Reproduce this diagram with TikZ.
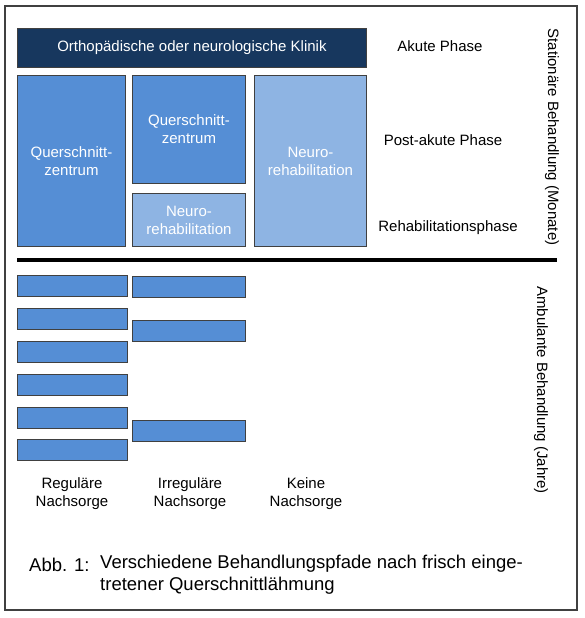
\documentclass[tikz,border=0pt]{standalone}
\usepackage{fontspec}
\setmainfont{Liberation Sans}
\usetikzlibrary{positioning}
\definecolor{navy}{HTML}{17375E}
\definecolor{midblue}{HTML}{558ED5}
\definecolor{lightblue}{HTML}{8EB4E3}
\definecolor{frame}{HTML}{404040}
\tikzset{blk/.style={draw=black!75,line width=0.9pt,text=white,align=center,inner sep=0pt,anchor=north west,font=\fontsize{15}{18}\selectfont},
  qz/.style={blk,fill=midblue}, nr/.style={blk,fill=lightblue}, bar/.style={blk,fill=midblue,minimum height=21pt},
  phase/.style={font=\fontsize{15}{18}\selectfont,align=center}, side/.style={font=\fontsize{15}{17}\selectfont,rotate=-90}}
\begin{document}
\begin{tikzpicture}[x=1pt,y=-1pt]
\useasboundingbox (0,0) rectangle (585,618);
\draw[frame,line width=1.4pt](5,6) rectangle (577,610);
\node[blk,fill=navy,minimum width=349pt,minimum height=39pt](klinik) at (17,28){Orthopädische oder neurologische Klinik};
\node[qz,minimum width=108pt,minimum height=171pt](qz1) at (17,75){Querschnitt-\\zentrum};
\node[qz,minimum width=113pt,minimum height=108pt](qz2) at (132,75){Querschnitt-\\zentrum};
\node[nr,minimum width=113pt,minimum height=53pt](nr2) at (132,193){Neuro-\\rehabilitation};
\node[nr,minimum width=112pt,minimum height=171pt](nr3) at (254,75){Neuro-\\rehabilitation};
\node[phase](akut) at (440,46){Akute Phase};
\node[phase](post) at (443,140){Post-akute Phase};
\node[phase](reha) at (448,228){Rehabilitationsphase};
\node[side](stat) at (552,137){Stationäre Behandlung (Monate)};
\coordinate (sepl) at (17,260); \coordinate (sepr) at (557,260);
\draw[line width=4pt](sepl)--(sepr);
\foreach \y [count=\i] in {275,308,341,374,407,439}
  \node[bar,minimum width=110pt](reg\i) at (17,\y){};
\foreach \y [count=\i] in {276,320,420}
  \node[bar,minimum width=113pt](irr\i) at (132,\y){};
\node[phase](lreg) at (72,494){Reguläre\\Nachsorge};
\node[phase](lirr) at (190,494){Irreguläre\\Nachsorge};
\node[phase](lkein) at (306,494){Keine\\Nachsorge};
\node[side](amb) at (541,390){Ambulante Behandlung (Jahre)};
\node[font=\fontsize{18.5}{21.5}\selectfont,anchor=west,inner sep=0pt](abb) at (29,565){Abb. 1:};
\node[font=\fontsize{18.5}{21.5}\selectfont,anchor=north west,align=left,inner sep=0pt](capt) at (100,555){Verschiedene Behandlungspfade nach frisch einge-\\tretener Querschnittlähmung};
\end{tikzpicture}
\end{document}
